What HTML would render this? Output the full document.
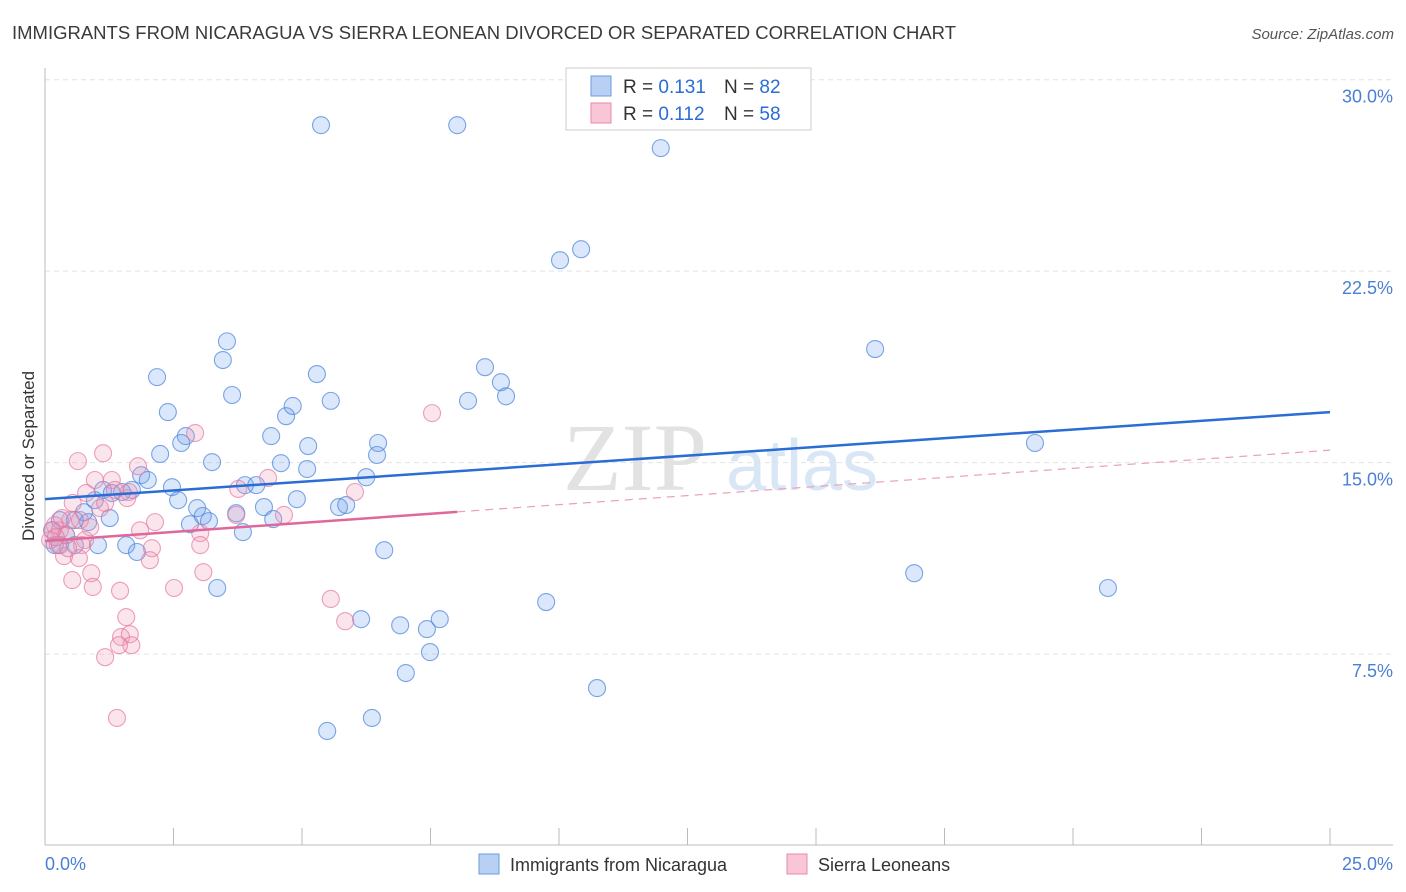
<!DOCTYPE html>
<html><head><meta charset="utf-8"><style>
body{margin:0;background:#fff;font-family:"Liberation Sans",sans-serif}
svg{display:block}
</style></head><body>
<svg id="chart" width="1406" height="892" viewBox="0 0 1406 892" xmlns="http://www.w3.org/2000/svg">
<text x="12" y="39" font-size="18" fill="#3a3a3a" textLength="944" lengthAdjust="spacingAndGlyphs">IMMIGRANTS FROM NICARAGUA VS SIERRA LEONEAN DIVORCED OR SEPARATED CORRELATION CHART</text>
<text x="1394" y="39" font-size="15" fill="#555" text-anchor="end" font-style="italic">Source: ZipAtlas.com</text>
<text transform="translate(34,456) rotate(-90)" font-size="17" fill="#333" text-anchor="middle">Divorced or Separated</text>
<g font-size="96" text-anchor="middle">
<text x="635" y="490" fill="#e2e2e2" font-family="Liberation Serif,serif">ZIP</text>
<text x="802" y="490" fill="#d8e6f6" font-size="72">atlas</text>
</g>
<g id="grid"></g>
<g id="axes"></g>
<g id="pts"></g>
<g id="trends"></g>
<g>
<rect x="566" y="68" width="245" height="62" fill="#fff" stroke="#ccc"/>
<rect x="591" y="76" width="20" height="20" fill="#b8d0f4" stroke="#6b9be0"/>
<rect x="591" y="103" width="20" height="20" fill="#f8c6d6" stroke="#e88aa8"/>
<text x="623" y="93" font-size="19" fill="#333">R = <tspan fill="#2a6dd4">0.131</tspan></text>
<text x="724" y="93" font-size="19" fill="#333">N = <tspan fill="#2a6dd4">82</tspan></text>
<text x="623" y="120" font-size="19" fill="#333">R = <tspan fill="#2a6dd4">0.112</tspan></text>
<text x="724" y="120" font-size="19" fill="#333">N = <tspan fill="#2a6dd4">58</tspan></text>
</g>
<g>
<rect x="479" y="854" width="20" height="20" fill="#b8d0f4" stroke="#6b9be0"/>
<text x="510" y="871" font-size="18" fill="#333">Immigrants from Nicaragua</text>
<rect x="787" y="854" width="20" height="20" fill="#f8c6d6" stroke="#e88aa8"/>
<text x="818" y="871" font-size="18" fill="#333">Sierra Leoneans</text>
</g>
</svg>
<script>
const yTicks=[7.5,15,22.5,30];
const yTickLabels=["7.5%","15.0%","22.5%","30.0%"];
const xTickLabels=["0.0%","25.0%"];
const blueX=[5.37,8.02,11.98,10.02,10.43,16.15,19.26,16.91,20.68,10.74,9.75,3.54,3.46,2.18,3.64,2.39,2.74,2.65,2.24,3.25,1.87,2.00,2.47,2.59,1.69,1.50,0.97,0.76,1.26,2.96,2.82,3.07,3.19,3.72,3.85,3.89,4.11,4.40,4.69,4.82,5.29,5.56,5.12,4.59,5.10,4.9,4.26,4.44,5.72,5.86,6.25,6.48,6.46,6.60,6.15,6.91,7.43,7.68,7.49,7.02,6.36,5.49,8.56,8.87,8.97,8.23,3.35,1.58,1.03,1.79,0.29,0.41,0.19,0.14,0.58,0.84,1.13,1.30,0.58,0.29];
const blueY=[28.22,28.22,27.32,22.93,23.36,19.45,15.77,10.67,10.09,6.17,9.54,19.75,19.02,18.35,17.65,16.98,16.04,15.77,15.34,15.02,14.51,14.32,14.04,13.53,13.93,13.85,13.53,13.06,12.83,13.22,12.59,12.91,12.71,13.02,12.28,14.12,14.12,16.04,16.82,17.22,18.47,17.42,15.65,14.98,14.75,13.57,13.26,12.79,13.26,13.34,14.43,15.77,15.30,11.57,8.87,8.63,8.48,8.87,7.58,6.76,5.0,4.49,18.74,18.15,17.60,17.42,10.09,11.77,11.77,11.5,12.75,12.16,11.77,12.35,12.75,12.67,13.93,13.81,11.77,11.77];
const pinkX=[7.53,2.92,1.13,0.64,1.81,0.97,1.30,4.34,3.76,1.36,0.80,6.03,0.54,1.07,1.60,2.14,1.85,3.72,4.65,3.02,0.78,0.72,3.02,2.08,2.04,0.66,0.37,0.90,3.08,0.53,0.93,2.51,1.46,5.56,1.58,5.84,1.48,1.65,1.68,1.44,1.17,1.40,0.19,0.29,0.41,0.10,0.25,0.49,0.33,0.45,0.14,0.21,0.68,1.17,1.63,0.88];
const pinkY=[16.94,16.16,15.37,15.06,14.86,14.32,14.32,14.40,13.97,13.93,13.81,13.85,13.42,13.22,13.61,12.67,12.35,12.95,12.95,12.24,11.97,11.77,11.77,11.65,11.18,11.26,11.34,10.67,10.71,10.40,10.13,10.09,9.98,9.66,8.95,8.79,8.17,8.28,7.85,7.85,7.38,5.0,12.55,12.35,12.16,11.97,11.77,12.75,12.83,11.65,12.35,12.08,12.75,13.42,13.85,12.47];
const blueTrend=[13.57,16.98];
const pinkTrend=[11.93,15.49];
const pinkSolidEnd=8.02;

const NS="http://www.w3.org/2000/svg";
const X0=45,X1=1330,Y0=845.6,PXY=25.53;
const sx=v=>X0+v/25*(X1-X0);
const sy=v=>Y0-v*PXY;
function mk(tag,attrs,parent){const e=document.createElementNS(NS,tag);for(const k in attrs)e.setAttribute(k,attrs[k]);document.getElementById(parent).appendChild(e);return e;}

yTicks.forEach((t,i)=>{
  const l=mk('line',{x1:X0,x2:1393,y1:sy(t),y2:sy(t),stroke:'#e2e2e2','stroke-dasharray':'5,4'},'grid');
  
  
  const tx=mk('text',{x:1393,y:sy(t)+23,'font-size':18,fill:'#4a7fd4','text-anchor':'end'},'grid');
  tx.textContent=yTickLabels[i];
  
  
});
let a=mk('line',{x1:X0,x2:X0,y1:68,y2:845,stroke:'#bbb'},'axes');


a=mk('line',{x1:X0,x2:1393,y1:845,y2:845,stroke:'#bbb'},'axes');


for(let i=0;i<=10;i++){
  const t=mk('line',{x1:sx(i*2.5),x2:sx(i*2.5),y1:828,y2:845,stroke:'#bbb'},'axes');
  
  
}
[[0,'start',45],[25,'end',1393]].forEach((d,i)=>{
  const t=mk('text',{x:d[2],y:870,'font-size':18,fill:'#4a7fd4','text-anchor':d[1]},'axes');
  t.textContent=xTickLabels[i];
  
  
});
blueX.forEach((v,i)=>{
  const c=mk('circle',{cx:sx(v),cy:sy(blueY[i]),r:8.5,fill:'rgba(110,160,235,0.25)',stroke:'rgba(70,130,220,0.7)','stroke-width':1.1},'pts');
  
  
});
pinkX.forEach((v,i)=>{
  const c=mk('circle',{cx:sx(v),cy:sy(pinkY[i]),r:8.5,fill:'rgba(240,150,180,0.25)',stroke:'rgba(230,120,160,0.7)','stroke-width':1.1},'pts');
  
  
});
let l=mk('line',{x1:sx(0),y1:sy(blueTrend[0]),x2:sx(25),y2:sy(blueTrend[1]),stroke:'#2a6dd4','stroke-width':2.5},'trends');


const pm=pinkTrend[0]+(pinkTrend[1]-pinkTrend[0])*pinkSolidEnd/25;
l=mk('line',{x1:sx(0),y1:sy(pinkTrend[0]),x2:sx(pinkSolidEnd),y2:sy(pm),stroke:'#e0679a','stroke-width':2.5},'trends');


l=mk('line',{x1:sx(pinkSolidEnd),y1:sy(pm),x2:sx(25),y2:sy(pinkTrend[1]),stroke:'#e8a0bc','stroke-width':1.2,'stroke-dasharray':'8,6'},'trends');


</script>
</body></html>
